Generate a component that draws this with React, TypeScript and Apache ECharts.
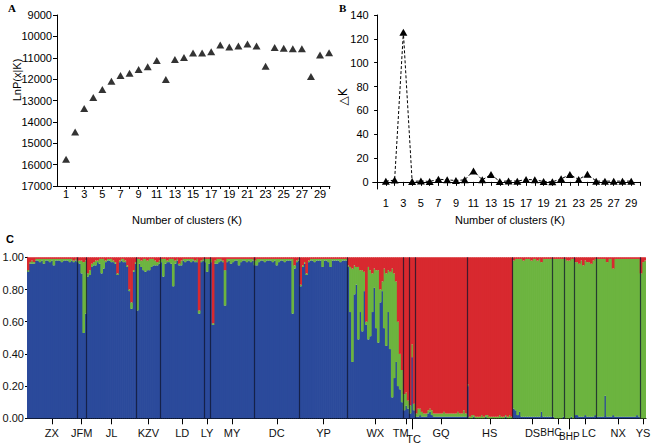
import React, { useEffect, useRef } from "react";
import * as echarts from "echarts";

// ---------- Panel A: LnP(x|K) ----------
const clustersA = [1, 2, 3, 4, 5, 6, 7, 8, 9, 10, 11, 12, 13, 14, 15, 16, 17, 18, 19, 20, 21, 22, 23, 24, 25, 26, 27, 28, 29, 30];
const lnPK = [-15750, -14470, -13375, -12860, -12485, -12095, -11830, -11720, -11550, -11420, -11125, -12015, -11080, -10985, -10780, -10780, -10720, -10400, -10500, -10450, -10360, -10450, -11400, -10515, -10560, -10580, -10580, -11875, -10875, -10765];

// ---------- Panel B: delta K ----------
const clustersB = [1, 2, 3, 4, 5, 6, 7, 8, 9, 10, 11, 12, 13, 14, 15, 16, 17, 18, 19, 20, 21, 22, 23, 24, 25, 26, 27, 28, 29];
const deltaK = [0.5, 1.5, 125.5, 0.3, 0.8, 0.3, 2.2, 1.7, 1.1, 1.7, 9.2, 1.7, 6.1, 0.3, 0.8, 0.6, 2.0, 1.7, 0.3, 0, 2.5, 6.1, 2.0, 6.4, 0.6, 0.6, 0.6, 0.6, 0.6];

// ---------- tick labels ----------
const kTickLabels = [1, 3, 5, 7, 9, 11, 13, 15, 17, 19, 21, 23, 25, 27, 29];
const kTicks = [0, 1, 2, 3, 4, 5, 6, 7, 8, 9, 10, 11, 12, 13, 14, 15, 16, 17, 18, 19, 20, 21, 22, 23, 24, 25, 26, 27, 28, 29, 30];
const deltaTicks = [0, 20, 40, 60, 80, 100, 120, 140];

// ---------- Panel C: STRUCTURE membership (percent) ----------
const popNames = ["ZX", "JFM", "JL", "KZV", "LD", "LY", "MY", "DC", "YP", "WX", "TM", "TC", "GQ", "HS", "DS", "BHC", "BHP", "LC", "NX", "YS"];
const popBlue = [
  [91, 96, 96, 96, 98, 98, 97, 98, 96, 98, 98, 97, 98, 95, 98, 98, 98, 97, 98, 98, 98, 97, 98, 97, 98],
  [97, 96, 90, 53, 65],
  [88, 89, 94, 95, 95, 97, 96, 90, 93, 97, 98, 98, 97, 97, 96, 89, 97, 98, 97, 97, 94, 79, 68, 91, 96],
  [67, 96, 94, 92, 91, 92, 92, 94, 95, 95, 95, 96],
  [97, 88, 96, 97, 97, 96, 82, 96, 98, 95, 95, 98, 97, 98, 98, 97, 98, 97, 97, 65, 97, 98],
  [97, 91, 96],
  [97, 58, 96, 96, 97, 98, 97, 70, 97, 98, 96, 97, 98, 98, 95, 97, 98, 98, 97, 98, 97, 98],
  [95, 95, 97, 98, 98, 97, 98, 98, 98, 97, 98, 95, 97, 98, 98, 97, 98, 98, 98, 65, 93, 97, 98],
  [82, 94, 96, 89, 97, 98, 98, 97, 98, 98, 98, 94, 98, 98, 97, 94, 98, 98, 98, 98, 97, 98, 98, 98],
  [94, 66, 35, 77, 83, 49, 66, 54, 79, 58, 49, 51, 66, 81, 56, 47, 72, 79, 56, 45, 66, 43, 13, 25, 35, 20, 18, 10],
  [5, 8, 6],
  [3, 38, 5],
  [1, 1, 2, 1, 1, 1, 3, 4, 2, 1, 1, 1, 1, 1, 1, 1, 1, 1, 1, 1, 1, 1, 1, 1, 1, 1],
  [20, 0, 0, 1, 0, 0, 0, 0, 0, 1, 0, 0, 0, 0, 0, 0, 0, 0, 0, 1, 0, 0, 0],
  [6, 5, 2, 4, 1, 1, 1, 1, 1, 1, 1, 1, 1, 1, 4, 1, 1, 1, 1, 1],
  [1, 0, 0, 0, 0, 1],
  [0, 0, 0, 1, 0],
  [2, 2, 1, 1, 1, 2, 1, 1, 1, 1, 2],
  [1, 1, 1, 1, 14, 1, 1, 1, 2, 1, 1, 1, 1, 1, 1, 1, 1, 1, 1, 1, 2, 1],
  [0, 0, 0],
];
const popRed = [
  [8, 3, 2, 3, 1, 1, 1, 1, 1, 1, 1, 1, 1, 1, 1, 1, 1, 1, 1, 1, 1, 1, 1, 2, 1],
  [2, 2, 2, 3, 2],
  [10, 8, 4, 3, 2, 2, 1, 1, 1, 2, 1, 1, 1, 2, 3, 10, 2, 1, 1, 2, 5, 20, 28, 8, 3],
  [1, 1, 2, 1, 1, 2, 1, 1, 1, 2, 3, 2],
  [1, 1, 1, 2, 1, 1, 1, 2, 1, 4, 2, 1, 1, 1, 1, 1, 1, 2, 1, 33, 2, 1],
  [1, 1, 1],
  [1, 41, 2, 1, 1, 1, 2, 8, 1, 1, 1, 1, 1, 1, 1, 1, 1, 1, 1, 1, 1, 1],
  [2, 1, 1, 1, 1, 1, 1, 1, 1, 1, 1, 1, 1, 1, 1, 1, 1, 1, 1, 1, 5, 2, 1],
  [17, 5, 3, 10, 2, 1, 1, 1, 1, 1, 1, 1, 1, 1, 1, 1, 1, 1, 1, 1, 1, 1, 1, 1],
  [5, 6, 7, 5, 6, 6, 8, 8, 9, 40, 6, 8, 10, 7, 8, 8, 20, 15, 7, 10, 8, 9, 7, 10, 15, 40, 60, 70],
  [85, 84, 89],
  [92, 54, 91],
  [97, 94, 94, 96, 97, 97, 95, 94, 95, 97, 97, 97, 97, 97, 96, 97, 97, 97, 97, 97, 97, 96, 97, 97, 95, 97],
  [79, 99, 98, 98, 99, 99, 99, 98, 99, 98, 98, 99, 99, 99, 99, 99, 98, 99, 99, 98, 99, 98, 99],
  [2, 1, 1, 1, 1, 2, 1, 1, 1, 2, 1, 1, 2, 1, 3, 1, 1, 1, 1, 1],
  [1, 1, 1, 1, 1, 1],
  [1, 2, 2, 1, 1],
  [3, 3, 4, 2, 5, 2, 3, 3, 4, 2, 1],
  [1, 1, 1, 1, 1, 3, 1, 1, 7, 1, 1, 1, 1, 1, 1, 1, 1, 1, 1, 1, 1, 1],
  [10, 3, 2],
];
const lowLabelPops = ["TC", "BHP"];

const BLUE = "#2b4a9b";
const GREEN = "#6cb43f";
const RED = "#d8292f";
const NARROW = "'Liberation Sans Narrow', 'Liberation Sans', Arial, sans-serif";
const SANS = "'Liberation Sans', Arial, sans-serif";

export default function App() {
  const ref = useRef<HTMLDivElement>(null);

  useEffect(() => {
    const chart = echarts.init(ref.current!, undefined, { renderer: "svg" });

    const blue: number[] = [];
    const green: number[] = [];
    const red: number[] = [];
    const cats: string[] = [];
    const bounds: number[] = [];
    const centers: { v: number; name: string }[] = [];
    let cum = 0;
    popNames.forEach((name, p) => {
      const b = popBlue[p];
      const r = popRed[p];
      centers.push({ v: cum + b.length / 2, name });
      b.forEach((bv, i) => {
        blue.push(bv / 100);
        red.push(r[i] / 100);
        green.push((100 - bv - r[i]) / 100);
        cats.push(name + "_" + i);
      });
      cum += b.length;
      if (p < popNames.length - 1) bounds.push(cum);
    });
    const N = cum;
    const nameAt = new Map(centers.map((c) => [c.v.toFixed(2), c.name]));
    const mainCenters = centers.filter((c) => !lowLabelPops.includes(c.name)).map((c) => c.v);
    const lowCenters = centers.filter((c) => lowLabelPops.includes(c.name)).map((c) => c.v);

    const axisLine = { show: true, lineStyle: { color: "#000", width: 1 } };
    const abLabel = { fontFamily: NARROW, fontSize: 11, color: "#000" };
    const popFont = { fontFamily: NARROW, fontSize: 11, color: "#111" };
    const smallPopFont = { fontFamily: NARROW, fontSize: 10, color: "#111" };

    const option: any = {
      animation: false,
      backgroundColor: "#fff",
      grid: [
        { left: 57, top: 15, width: 273, height: 171, containLabel: false, outerBoundsMode: "none" },
        { left: 372.7, top: 15, width: 267.3, height: 174, containLabel: false, outerBoundsMode: "none" },
        { left: 27, top: 257.3, width: 619, height: 161, containLabel: false, outerBoundsMode: "none" },
      ],
      xAxis: [
        {
          type: "value", gridIndex: 0, min: 0, max: 30.1,
          axisLine, splitLine: { show: false },
          axisTick: { show: true, length: 3, customValues: kTicks.slice(1), lineStyle: { color: "#000" } },
          axisLabel: { ...abLabel, margin: 2, customValues: kTickLabels, formatter: (v: number) => String(v) },
        },
        {
          type: "value", gridIndex: 1, min: -0.5, max: 30,
          axisLine, splitLine: { show: false },
          axisTick: { show: true, length: 4, customValues: kTicks, lineStyle: { color: "#000" } },
          axisLabel: { ...abLabel, margin: 8, customValues: kTickLabels, formatter: (v: number) => String(v) },
        },
        {
          type: "category", gridIndex: 2, data: cats, show: false,
        },
        {
          type: "value", gridIndex: 2, min: 0, max: N, position: "bottom", offset: 0,
          axisLine, splitLine: { show: false },
          axisTick: { show: true, length: 6, customValues: mainCenters, lineStyle: { color: "#000" } },
          axisLabel: {
            ...popFont, margin: 9,
            customValues: mainCenters,
            formatter: (v: number) => {
              const n = nameAt.get(v.toFixed(2)) || "";
              if (n === "TM") return "{tm|TM}";
              if (n === "BHC") return "{bhc|BHC}";
              if (n === "LC") return "{lc|LC}";
              return n;
            },
            rich: {
              tm: { ...popFont, padding: [0, 11, 0, 0] },
              bhc: { ...smallPopFont, padding: [0, 15, 0, 0] },
              lc: { ...popFont, padding: [0, 0, 0, 7] },
            },
          },
        },
        {
          type: "value", gridIndex: 2, min: 0, max: N, position: "bottom", offset: 0,
          axisLine: { show: false }, splitLine: { show: false },
          axisTick: { show: true, length: 11, customValues: lowCenters, lineStyle: { color: "#000" } },
          axisLabel: {
            ...popFont, margin: 12,
            customValues: lowCenters,
            formatter: (v: number) => {
              const n = nameAt.get(v.toFixed(2)) || "";
              return n === "TC" ? "{tc|TC}" : "{bhp|" + n + "}";
            },
            rich: {
              tc: { ...popFont, padding: [3, 0, 0, 3] },
              bhp: { ...smallPopFont, padding: [1, 0, 0, 0] },
            },
          },
        },
      ],
      yAxis: [
        {
          type: "value", gridIndex: 0, min: -17000, max: -9000, interval: 1000,
          axisLine, splitLine: { show: false },
          axisTick: { show: true, length: 4, lineStyle: { color: "#000" } },
          axisLabel: { ...abLabel, margin: 5, formatter: (v: number) => String(Math.abs(v)) },
        },
        {
          type: "value", gridIndex: 1, min: -6, max: 140,
          axisLine, splitLine: { show: false },
          axisTick: { show: true, length: 3, customValues: deltaTicks, lineStyle: { color: "#000" } },
          axisLabel: { ...abLabel, margin: 4, customValues: deltaTicks, formatter: (v: number) => String(v) },
        },
        {
          type: "value", gridIndex: 2, min: 0, max: 1, interval: 0.2,
          axisLine, splitLine: { show: false },
          axisTick: { show: true, length: 2, lineStyle: { color: "#000" } },
          axisLabel: { fontFamily: SANS, fontSize: 11, color: "#111", margin: 3, formatter: (v: number) => v.toFixed(2) },
        },
      ],
      series: [
        {
          type: "scatter", xAxisIndex: 0, yAxisIndex: 0,
          data: clustersA.map((k, i) => [k, lnPK[i]]),
          symbol: "triangle", symbolSize: [8, 7],
          itemStyle: { color: "#000" },
        },
        {
          type: "line", xAxisIndex: 1, yAxisIndex: 1,
          data: clustersB.map((k, i) => [k, deltaK[i]]),
          symbol: "triangle", symbolSize: [8, 7],
          itemStyle: { color: "#000" },
          lineStyle: { color: "#000", width: 1, type: [3, 2] },
        },
        {
          type: "bar", xAxisIndex: 2, yAxisIndex: 2, stack: "q", data: blue,
          barWidth: 2.7, barGap: "-100%",
          itemStyle: { color: BLUE },
        },
        {
          type: "bar", xAxisIndex: 2, yAxisIndex: 2, stack: "q", data: green,
          barWidth: 2.7, barGap: "-100%",
          itemStyle: { color: GREEN },
        },
        {
          type: "bar", xAxisIndex: 2, yAxisIndex: 2, stack: "q", data: red,
          barWidth: 2.7, barGap: "-100%",
          itemStyle: { color: RED },
        },
        {
          type: "scatter", xAxisIndex: 3, yAxisIndex: 2,
          data: [[0, 0]], symbolSize: 0, silent: true,
          markLine: {
            silent: true, symbol: ["none", "none"], label: { show: false },
            lineStyle: { color: "rgba(15,20,45,0.75)", width: 1.2, type: "solid" },
            data: bounds.map((b) => ({ xAxis: b })),
          },
        },
      ],
      graphic: [
        { type: "text", x: 8, y: 2, style: { text: "A", fontFamily: "'Liberation Serif', serif", fontWeight: "bold", fontSize: 11, fill: "#000" } },
        { type: "text", x: 339, y: 2, style: { text: "B", fontFamily: "'Liberation Serif', serif", fontWeight: "bold", fontSize: 11, fill: "#000" } },
        { type: "text", x: 6, y: 233, style: { text: "C", fontFamily: SANS, fontWeight: "bold", fontSize: 11, fill: "#000" } },
        { type: "text", x: 17, y: 80, rotation: Math.PI / 2, style: { text: "LnP(x|K)", fontFamily: NARROW, fontSize: 11, fill: "#000", align: "center", verticalAlign: "middle" } },
        { type: "text", x: 343, y: 97, rotation: Math.PI / 2, style: { text: "△K", fontFamily: "'DejaVu Sans', sans-serif", fontSize: 12, fill: "#000", align: "center", verticalAlign: "middle" } },
        { type: "text", x: 187, y: 220, style: { text: "Number of clusters (K)", fontFamily: NARROW, fontSize: 11, fill: "#000", align: "center", verticalAlign: "middle" } },
        { type: "text", x: 510, y: 220, style: { text: "Number of clusters (K)", fontFamily: NARROW, fontSize: 11, fill: "#000", align: "center", verticalAlign: "middle" } },
      ],
    };

    chart.setOption(option);
    return () => chart.dispose();
  }, []);

  return (
    <div
      ref={ref}
      style={{ position: "fixed", left: 0, top: 0, width: 652, height: 447, background: "#fff" }}
    />
  );
}
